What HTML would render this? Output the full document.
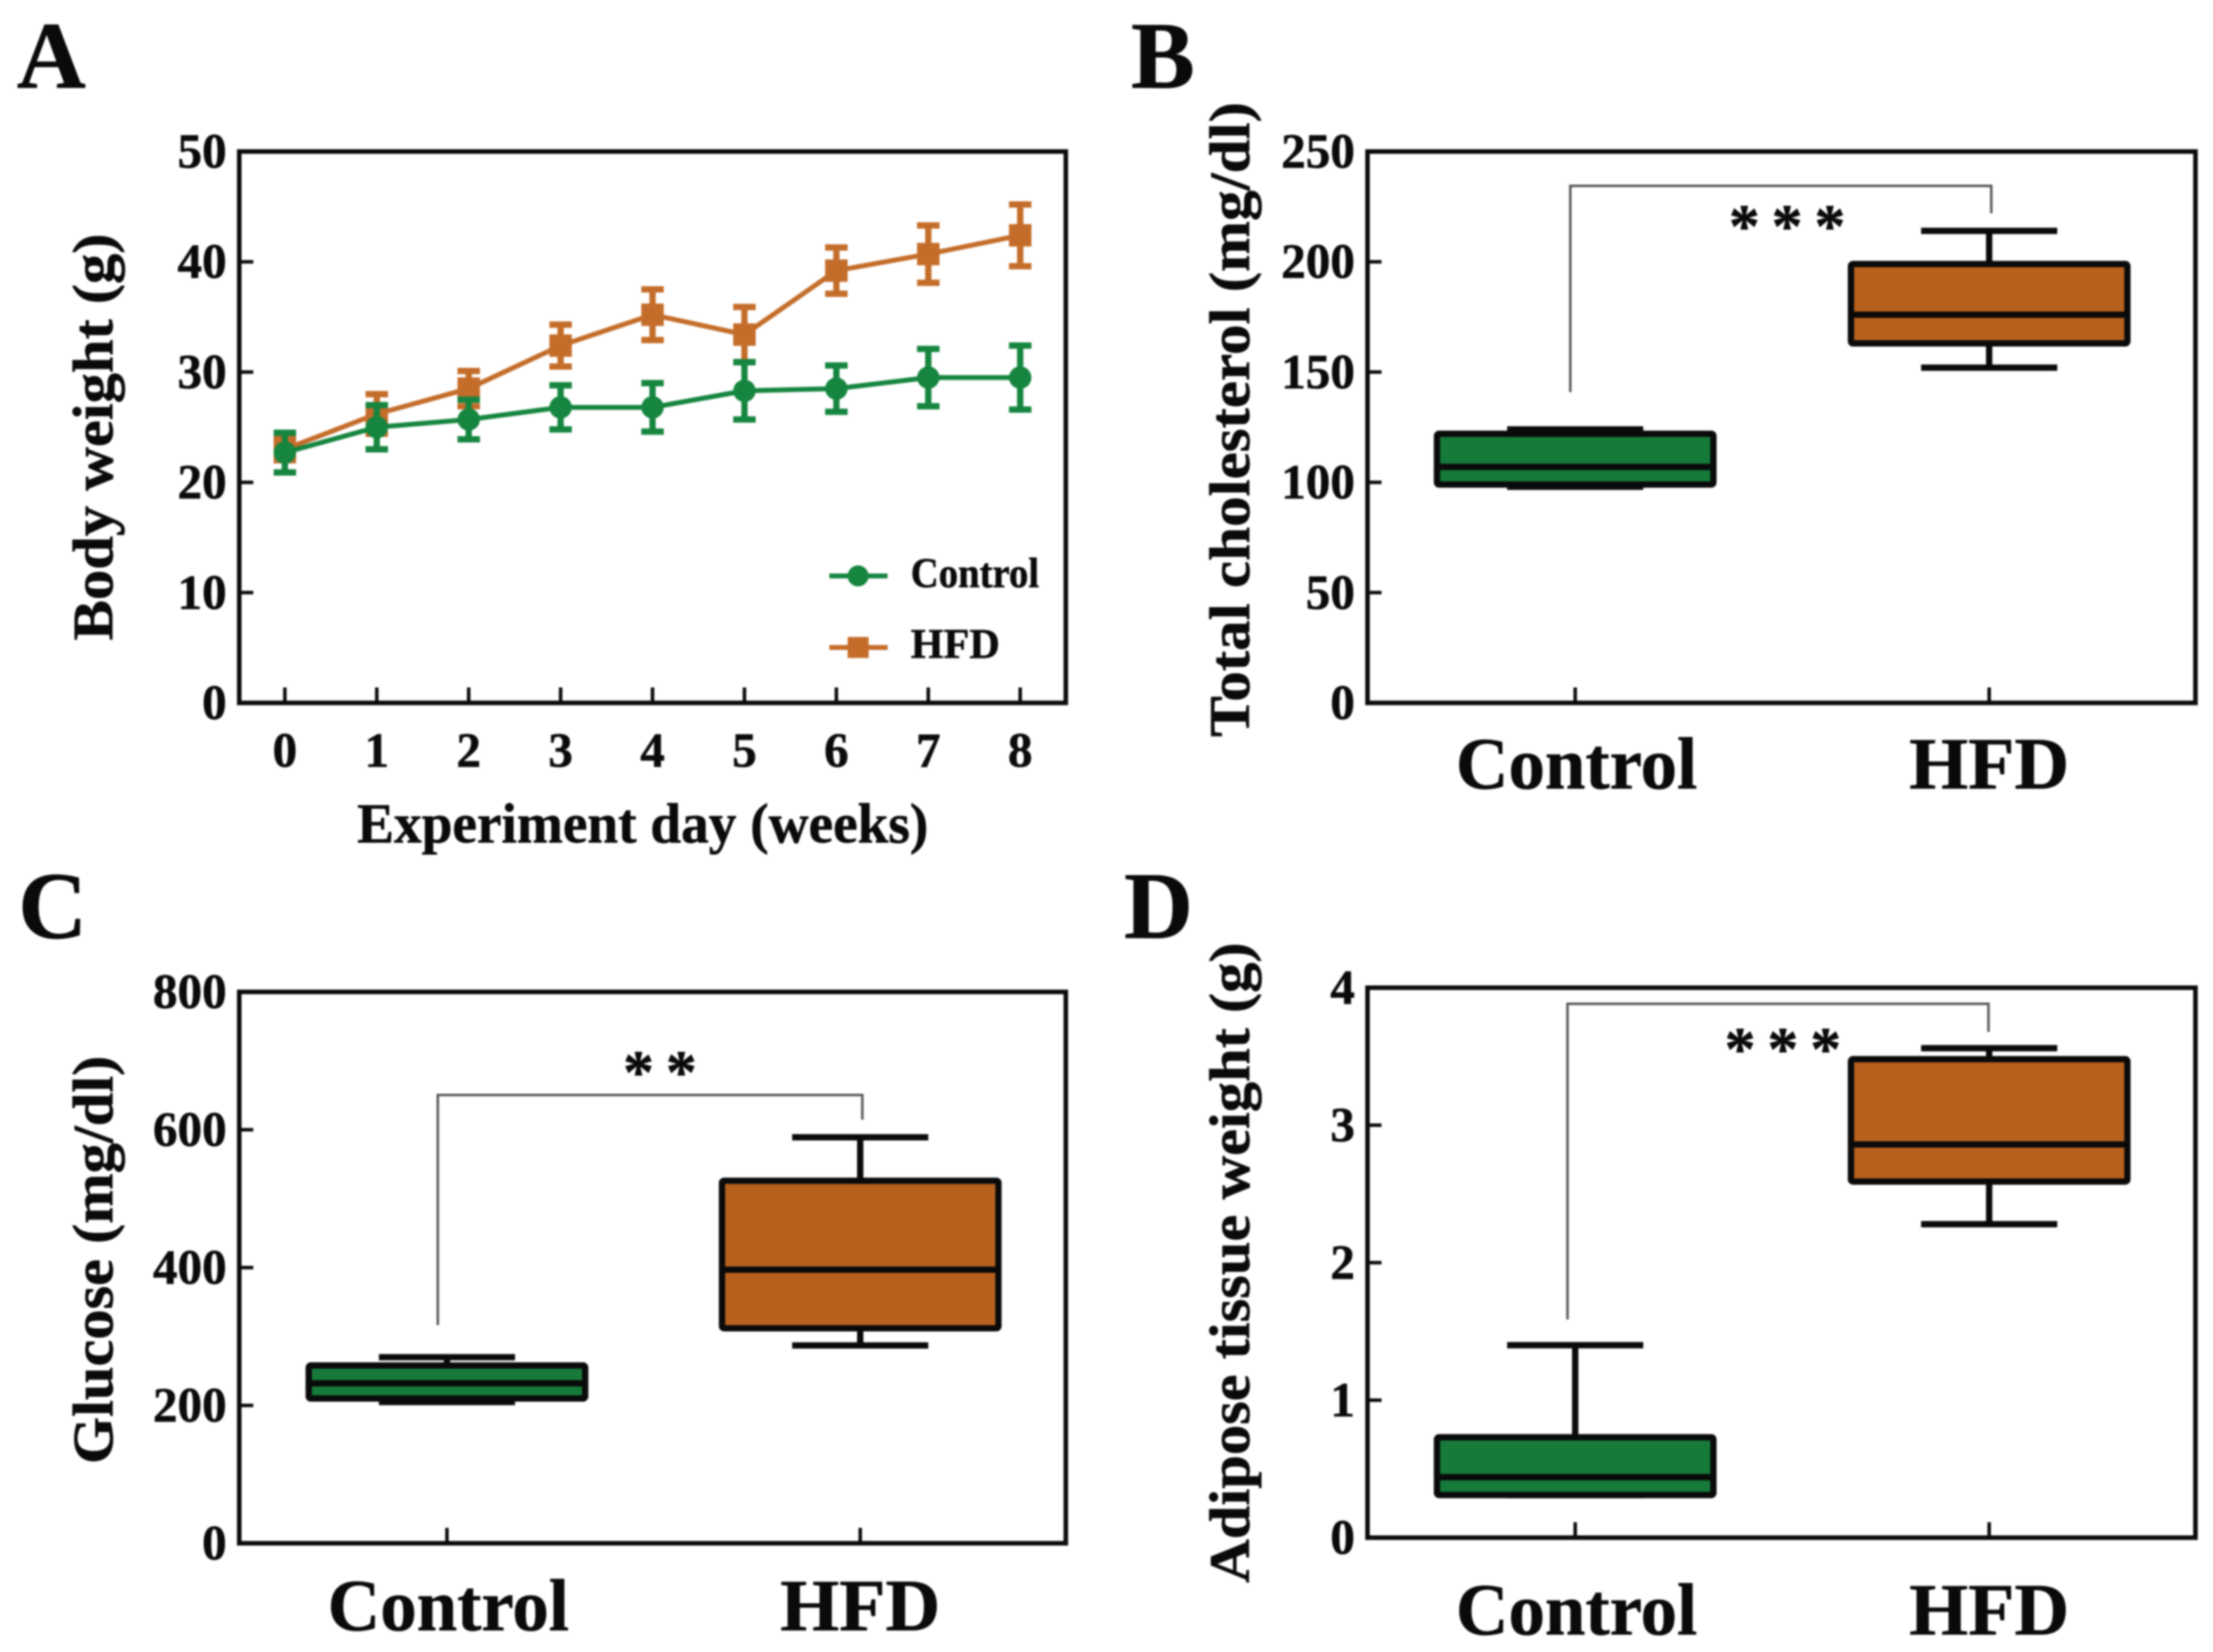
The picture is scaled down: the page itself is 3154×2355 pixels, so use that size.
<!DOCTYPE html>
<html lang="en">
<head>
<meta charset="utf-8">
<title>Body weight, cholesterol, glucose and adipose tissue</title>
<style>
html,body{margin:0;padding:0;background:#fff;width:3154px;height:2355px;overflow:hidden}
svg{display:block;filter:blur(1.3px)}
text{font-family:"Liberation Serif",serif;font-weight:700;fill:#0a0a0a;stroke:#0a0a0a;stroke-width:.8px}
</style>
</head>
<body>
<svg id="figure" xmlns="http://www.w3.org/2000/svg" width="3154" height="2355" viewBox="0 0 3154 2355">
<rect width="3154" height="2355" fill="#fff"/>
<text x="24" y="125" font-size="136">A</text>
<text x="1612" y="125" font-size="136">B</text>
<text x="26" y="1337" font-size="136">C</text>
<text x="1602" y="1337" font-size="136">D</text>

<text transform="translate(160,623) rotate(-90)" text-anchor="middle" font-size="82" textLength="580" lengthAdjust="spacingAndGlyphs">Body weight (g)</text>
<text x="916" y="1201" text-anchor="middle" font-size="80" textLength="814" lengthAdjust="spacingAndGlyphs">Experiment day (weeks)</text>
<text transform="translate(1780,598) rotate(-90)" text-anchor="middle" font-size="82" textLength="905" lengthAdjust="spacingAndGlyphs">Total cholesterol (mg/dl)</text>
<text transform="translate(160,1796) rotate(-90)" text-anchor="middle" font-size="82" textLength="582" lengthAdjust="spacingAndGlyphs">Glucose (mg/dl)</text>
<text transform="translate(1780,1800) rotate(-90)" text-anchor="middle" font-size="82" textLength="913" lengthAdjust="spacingAndGlyphs">Adipose tissue weight (g)</text>

<text x="1298" y="837" font-size="60" textLength="183" lengthAdjust="spacingAndGlyphs">Control</text>
<text x="1298" y="938" font-size="60" textLength="127" lengthAdjust="spacing">HFD</text>

<text x="2464" y="352" font-size="88" letter-spacing="17">***</text>
<text x="888" y="1558" font-size="88" letter-spacing="17">**</text>
<text x="2458" y="1525" font-size="88" letter-spacing="17">***</text>
</svg>
<script>
const NS = 'http://www.w3.org/2000/svg';
const GREEN_LINE = '#15853f';
const ORANGE_LINE = '#c46d2a';
const GREEN_BOX = '#167a3a';
const ORANGE_BOX = '#b8611f';

const weeks = [0, 1, 2, 3, 4, 5, 6, 7, 8];
const controlWeight = [22.7, 25.0, 25.7, 26.8, 26.8, 28.3, 28.5, 29.5, 29.5];
const controlWeightErr = [1.8, 2.0, 1.8, 2.0, 2.2, 2.6, 2.1, 2.6, 2.9];
const hfdWeight = [23.0, 26.2, 28.5, 32.4, 35.2, 33.4, 39.2, 40.7, 42.4];
const hfdWeightErr = [1.0, 1.8, 1.6, 1.9, 2.3, 2.5, 2.1, 2.6, 2.8];

const weightTicks = [0, 10, 20, 30, 40, 50];
const cholesterolTicks = [0, 50, 100, 150, 200, 250];
const glucoseTicks = [0, 200, 400, 600, 800];
const adiposeTicks = [0, 1, 2, 3, 4];
const groups = ['Control', 'HFD'];

// box values: whisker low, q1, median, q3, whisker high
const cholesterolControl = [98, 99, 107, 122, 124];
const cholesterolHfd = [152, 163, 176, 199, 214];
const glucoseControl = [205, 210, 232, 258, 270];
const glucoseHfd = [287, 312, 397, 526, 589];
const adiposeControl = [0.31, 0.31, 0.44, 0.73, 1.40];
const adiposeHfd = [2.28, 2.59, 2.86, 3.48, 3.56];

const svg = document.getElementById('figure');

function make(tag, attrs, text) {
  const el = document.createElementNS(NS, tag);
  for (const k in attrs) el.setAttribute(k, attrs[k]);
  if (text !== undefined) el.textContent = text;
  svg.appendChild(el);
  return el;
}
function linearScale(d0, d1, r0, r1) {
  return function (v) { return r0 + (v - d0) / (d1 - d0) * (r1 - r0); };
}

function drawFrame(panel, box) {
  const el = make('rect', { x: box.left, y: box.top, width: box.right - box.left, height: box.bottom - box.top, fill: 'none', stroke: '#0a0a0a', 'stroke-width': 6.5 });
  
  
}
function drawYAxis(panel, box, ticks, y) {
  ticks.forEach(function (t) {
    const tick = make('line', { x1: box.left, x2: box.left + 20, y1: y(t), y2: y(t), stroke: '#0a0a0a', 'stroke-width': 5 });
    
    
    const label = make('text', { x: box.left - 18, y: y(t) + 23, 'text-anchor': 'end', 'font-size': 70 }, String(t));
    
    
  });
}
function drawXTick(panel, box, px) {
  const tick = make('line', { x1: px, x2: px, y1: box.bottom, y2: box.bottom - 22, stroke: '#0a0a0a', 'stroke-width': 5 });
  
  
}

function drawWeightSeries(name, values, errs, x, y, color, square) {
  const pts = values.map(function (v, i) { return x(weeks[i]) + ',' + y(v); }).join(' ');
  const line = make('polyline', { points: pts, fill: 'none', stroke: color, 'stroke-width': 7, 'stroke-linejoin': 'round' });
  
  
  values.forEach(function (v, i) {
    const cx = x(weeks[i]);
    const d = 'M' + cx + ' ' + y(v - errs[i]) + 'V' + y(v + errs[i]) +
      'M' + (cx - 16) + ' ' + y(v - errs[i]) + 'H' + (cx + 16) +
      'M' + (cx - 16) + ' ' + y(v + errs[i]) + 'H' + (cx + 16);
    const err = make('path', { d: d, fill: 'none', stroke: color, 'stroke-width': 9 });
    
    
    drawMarker(name + '-point', cx, y(v), color, square, 16);
  });
}
function drawMarker(name, cx, cy, color, square, r) {
  const m = square
    ? make('rect', { x: cx - r, y: cy - r, width: r * 2, height: r * 2, fill: color })
    : make('circle', { cx: cx, cy: cy, r: r, fill: color });
  
  
}

function drawBox(name, cx, vals, y, fill) {
  const halfW = 197, capW = 97, sw = 9;
  const d = 'M' + cx + ' ' + y(vals[0]) + 'V' + y(vals[1]) + 'M' + cx + ' ' + y(vals[3]) + 'V' + y(vals[4]) +
    'M' + (cx - capW) + ' ' + y(vals[0]) + 'H' + (cx + capW) +
    'M' + (cx - capW) + ' ' + y(vals[4]) + 'H' + (cx + capW);
  const whisk = make('path', { d: d, fill: 'none', stroke: '#0a0a0a', 'stroke-width': sw });
  
  
  const rect = make('rect', { x: cx - halfW, y: y(vals[3]), width: halfW * 2, height: y(vals[1]) - y(vals[3]), fill: fill, stroke: '#0a0a0a', 'stroke-width': sw, rx: 3 });
  
  
  const med = make('line', { x1: cx - halfW, x2: cx + halfW, y1: y(vals[2]), y2: y(vals[2]), stroke: '#0a0a0a', 'stroke-width': sw });
  
  
}
function drawBracket(name, x1, x2, top, b1, b2) {
  const br = make('path', { d: 'M' + x1 + ' ' + b1 + 'V' + top + 'H' + x2 + 'V' + b2, fill: 'none', stroke: '#555', 'stroke-width': 3.5 });
  
  
}
function drawGroupLabels(panel, box, xs, baseline) {
  groups.forEach(function (g, i) {
    drawXTick(panel, box, xs[i]);
    const lab = make('text', { x: xs[i] + (i === 0 ? 2 : 0), y: baseline, 'text-anchor': 'middle', 'font-size': 105, textLength: i === 0 ? 344 : 228, lengthAdjust: 'spacingAndGlyphs' }, g);
    
    
  });
}

/* Panel A */
const boxA = { left: 341, right: 1519, top: 216, bottom: 1002 };
const xA = linearScale(0, 8, 406, 1454);
const yA = linearScale(0, 50, boxA.bottom, boxA.top);
drawFrame('weight', boxA);
drawYAxis('weight', boxA, weightTicks, yA);
weeks.forEach(function (w) {
  drawXTick('weight', boxA, xA(w));
  const lab = make('text', { x: xA(w), y: 1093, 'text-anchor': 'middle', 'font-size': 70 }, String(w));
  
  
});
drawWeightSeries('hfd-weight', hfdWeight, hfdWeightErr, xA, yA, ORANGE_LINE, true);
drawWeightSeries('control-weight', controlWeight, controlWeightErr, xA, yA, GREEN_LINE, false);

const legendLineC = make('line', { x1: 1182, x2: 1265, y1: 821, y2: 821, stroke: GREEN_LINE, 'stroke-width': 7 });


drawMarker('legend-marker-control', 1223, 821, GREEN_LINE, false, 15);
const legendLineH = make('line', { x1: 1182, x2: 1265, y1: 923, y2: 923, stroke: ORANGE_LINE, 'stroke-width': 7 });


drawMarker('legend-marker-hfd', 1223, 923, ORANGE_LINE, true, 15);

/* Panel B */
const boxB = { left: 1949, right: 3129, top: 216, bottom: 1002 };
const yB = linearScale(0, 250, boxB.bottom, boxB.top);
const xB = [2245, 2835];
drawFrame('cholesterol', boxB);
drawYAxis('cholesterol', boxB, cholesterolTicks, yB);
drawGroupLabels('cholesterol', boxB, xB, 1124);
drawBox('cholesterol-control', xB[0], cholesterolControl, yB, GREEN_BOX);
drawBox('cholesterol-hfd', xB[1], cholesterolHfd, yB, ORANGE_BOX);
drawBracket('cholesterol-significance-bracket', 2238, 2838, 265, 559, 304);

/* Panel C */
const boxC = { left: 341, right: 1519, top: 1414, bottom: 2200 };
const yC = linearScale(0, 800, boxC.bottom, boxC.top);
const xC = [637, 1226];
drawFrame('glucose', boxC);
drawYAxis('glucose', boxC, glucoseTicks, yC);
drawGroupLabels('glucose', boxC, xC, 2324);
drawBox('glucose-control', xC[0], glucoseControl, yC, GREEN_BOX);
drawBox('glucose-hfd', xC[1], glucoseHfd, yC, ORANGE_BOX);
drawBracket('glucose-significance-bracket', 624, 1229, 1561, 1889, 1596);

/* Panel D */
const boxD = { left: 1949, right: 3129, top: 1408, bottom: 2192 };
const yD = linearScale(0, 4, boxD.bottom, boxD.top);
const xD = [2245, 2835];
drawFrame('adipose', boxD);
drawYAxis('adipose', boxD, adiposeTicks, yD);
drawGroupLabels('adipose', boxD, xD, 2330);
drawBox('adipose-control', xD[0], adiposeControl, yD, GREEN_BOX);
drawBox('adipose-hfd', xD[1], adiposeHfd, yD, ORANGE_BOX);
drawBracket('adipose-significance-bracket', 2234, 2834, 1431, 1881, 1471);
</script>
</body>
</html>
